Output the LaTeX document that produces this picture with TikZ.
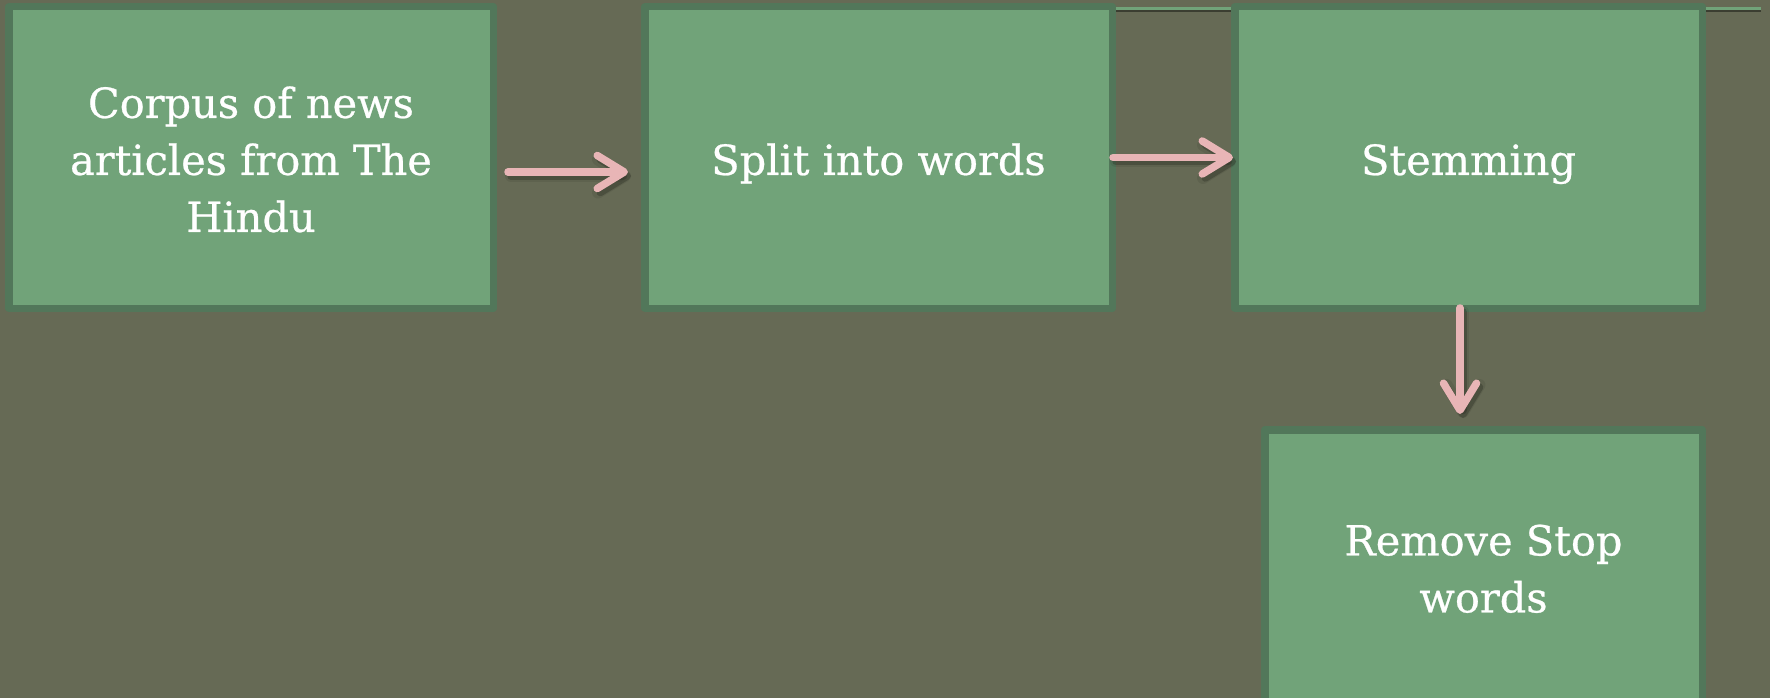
\documentclass[tikz,border=0pt]{standalone}
\usepackage{fontspec}
\setmainfont{DejaVu Serif}
\newfontfamily\boxfont{DejaVu Serif}[FakeBold=0.6]
\usetikzlibrary{arrows.meta,calc}
\definecolor{bg}{HTML}{666A55}
\definecolor{boxfill}{HTML}{71A379}
\definecolor{boxline}{HTML}{52775A}
\definecolor{arrowpink}{HTML}{E8B5B6}
\definecolor{shadowc}{HTML}{2A2C22}
\newcommand\linkarrow[2]{%
  \begin{scope}[transform canvas={shift={(3pt,-4pt)}}]
    \draw[connshadow, line width=12pt, opacity=0.12] #1 -- #2;
    \draw[connshadow, opacity=0.35] #1 -- #2;
  \end{scope}
  \draw[conn] #1 -- #2;}
\newcommand\lowertext[2]{\raisebox{-#1}[\height][\depth]{\begin{tabular}{@{}c@{}}#2\end{tabular}}}
\begin{document}
\begin{tikzpicture}[x=1pt,y=-1pt,
  stepbox/.style={draw=boxline, line width=7.5pt, line join=round, fill=boxfill,
    text=white, font=\boxfont\fontsize{41.5}{57}\selectfont, align=center, inner sep=0pt},
  conn/.style={draw=arrowpink, line width=7.5pt, line cap=round,
    -{Straight Barb[length=27pt,width=33pt,round]}},
  connshadow/.style={draw=shadowc, line width=7.5pt, line cap=round,
    -{Straight Barb[length=27pt,width=33pt,round]}}]
\useasboundingbox (0,0) rectangle (1770,698);
\clip (0,0) rectangle (1770,698);
\fill[bg] (0,0) rectangle (1770,698);
% thin top line partly hidden behind the boxes
\coordinate (t1) at (1110,8.5);
\coordinate (t2) at (1761,8.5);
\draw[shadowc, opacity=0.7, line width=3pt] ([yshift=-2.5pt]t1) -- ([yshift=-2.5pt]t2);
\draw[boxfill, line width=2.5pt] (t1) -- (t2);
% boxes
\node[stepbox, minimum width=484.5pt, minimum height=301.5pt] (b1) at (251,157.5)
  {\lowertext{6pt}{Corpus of news\\articles from The\\Hindu}};
\node[stepbox, minimum width=467.5pt, minimum height=301.5pt] (b2) at (878.5,157.5)
  {\lowertext{6pt}{Split into words}};
\node[stepbox, minimum width=467.5pt, minimum height=301.5pt] (b3) at (1468.5,157.5)
  {\lowertext{6pt}{Stemming}};
\node[stepbox, minimum width=437.5pt, minimum height=278.5pt] (b4) at (1483.5,569)
  {\lowertext{3.5pt}{Remove Stop\\words}};
% connectors
\linkarrow{($(b1.east)+(11,14.5)$)}{($(b2.west)+(-13,14.5)$)}
\linkarrow{($(b2.east)+(-3,0)$)}{($(b3.west)+(2,0)$)}
\linkarrow{($(b3.south)+(-8.5,-4)$)}{($(b3.south |- b4.north)+(-8.5,-12)$)}
\end{tikzpicture}
\end{document}
